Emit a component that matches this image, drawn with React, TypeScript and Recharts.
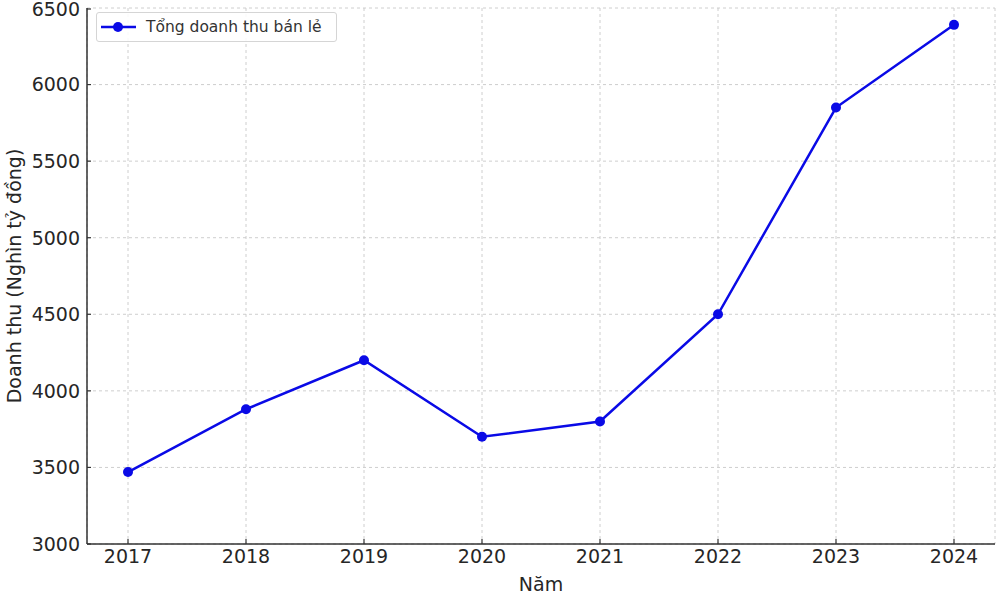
import { LineChart, Line, XAxis, YAxis, CartesianGrid, Legend } from 'recharts'

const years = ['2017', '2018', '2019', '2020', '2021', '2022', '2023', '2024']
const revenue = [3470, 3880, 4200, 3700, 3800, 4500, 5850, 6390]
const yTicks = [3000, 3500, 4000, 4500, 5000, 5500, 6000, 6500]

const seriesName = 'Tổng doanh thu bán lẻ'
const lineColor = '#0a0ae6'
const textColor = '#262626'
const font = '"DejaVu Sans", sans-serif'

const data = years.map((year, i) => ({ year, value: revenue[i] }))

function YTick(props: any) {
  const { x, y, payload } = props
  return (
    <g>
      <line x1={x + 7} x2={x + 11} y1={y} y2={y} stroke="#333" strokeWidth={1.2} />
      <text x={x} y={y} dy="0.36em" textAnchor="end" fontSize={19} fill={textColor} fontFamily={font}>
        {payload.value}
      </text>
    </g>
  )
}

function XTick(props: any) {
  const { x, y, payload } = props
  return (
    <g>
      <line x1={x} x2={x} y1={y - 5} y2={y - 10} stroke="#333" strokeWidth={1.2} />
      <text x={x} y={y} dy="0.74em" textAnchor="middle" fontSize={19} fill={textColor} fontFamily={font}>
        {payload.value}
      </text>
    </g>
  )
}

function LegendBox() {
  return (
    <div
      style={{
        width: 239,
        height: 28,
        border: '1px solid #d5d5d5',
        borderRadius: 3,
        background: 'rgba(255,255,255,0.85)',
        display: 'flex',
        alignItems: 'center',
        fontFamily: font,
        fontSize: 15.5,
        color: '#333',
      }}
    >
      <svg width={49} height={28} style={{ flex: 'none' }}>
        <line x1={4} x2={39} y1={14} y2={14} stroke={lineColor} strokeWidth={2.5} />
        <circle cx={21} cy={14} r={5} fill={lineColor} />
      </svg>
      <span style={{ whiteSpace: 'nowrap' }}>{seriesName}</span>
    </div>
  )
}

export default function App() {
  return (
    <div style={{ position: 'absolute', left: 0, top: 0, background: '#fff' }}>
      <LineChart width={1000} height={594} data={data} margin={{ top: 8, right: 5, bottom: 0, left: 0 }}>
        <CartesianGrid stroke="#c8c8c8" strokeDasharray="3 3" strokeWidth={0.9} />
        <XAxis
          dataKey="year"
          height={50}
          padding={{ left: 41, right: 41 }}
          axisLine={{ stroke: '#333', strokeWidth: 1.5 }}
          tickLine={false}
          tickSize={0}
          tickMargin={5}
          tick={<XTick />}
          interval={0}
          label={{ value: 'Năm', position: 'insideBottom', offset: 3, fontSize: 19, fill: textColor, fontFamily: font }}
        />
        <YAxis
          width={87}
          domain={[3000, 6500]}
          ticks={yTicks}
          allowDataOverflow
          axisLine={{ stroke: '#333', strokeWidth: 1.5 }}
          tickLine={false}
          tickSize={0}
          tickMargin={7}
          tick={<YTick />}
          label={{
            value: 'Doanh thu (Nghìn tỷ đồng)',
            angle: -90,
            position: 'insideLeft',
            offset: 14,
            style: { textAnchor: 'middle' },
            fontSize: 19,
            fill: textColor,
            fontFamily: font,
          }}
        />
        <Legend
          layout="vertical"
          align="center"
          verticalAlign="middle"
          content={<LegendBox />}
          wrapperStyle={{ top: 12, left: 96, width: 241, height: 30 }}
        />
        <Line
          type="linear"
          dataKey="value"
          name={seriesName}
          stroke={lineColor}
          strokeWidth={2.5}
          dot={{ r: 5, fill: lineColor, stroke: lineColor, strokeWidth: 0 }}
          activeDot={false}
          isAnimationActive={false}
        />
      </LineChart>
    </div>
  )
}
